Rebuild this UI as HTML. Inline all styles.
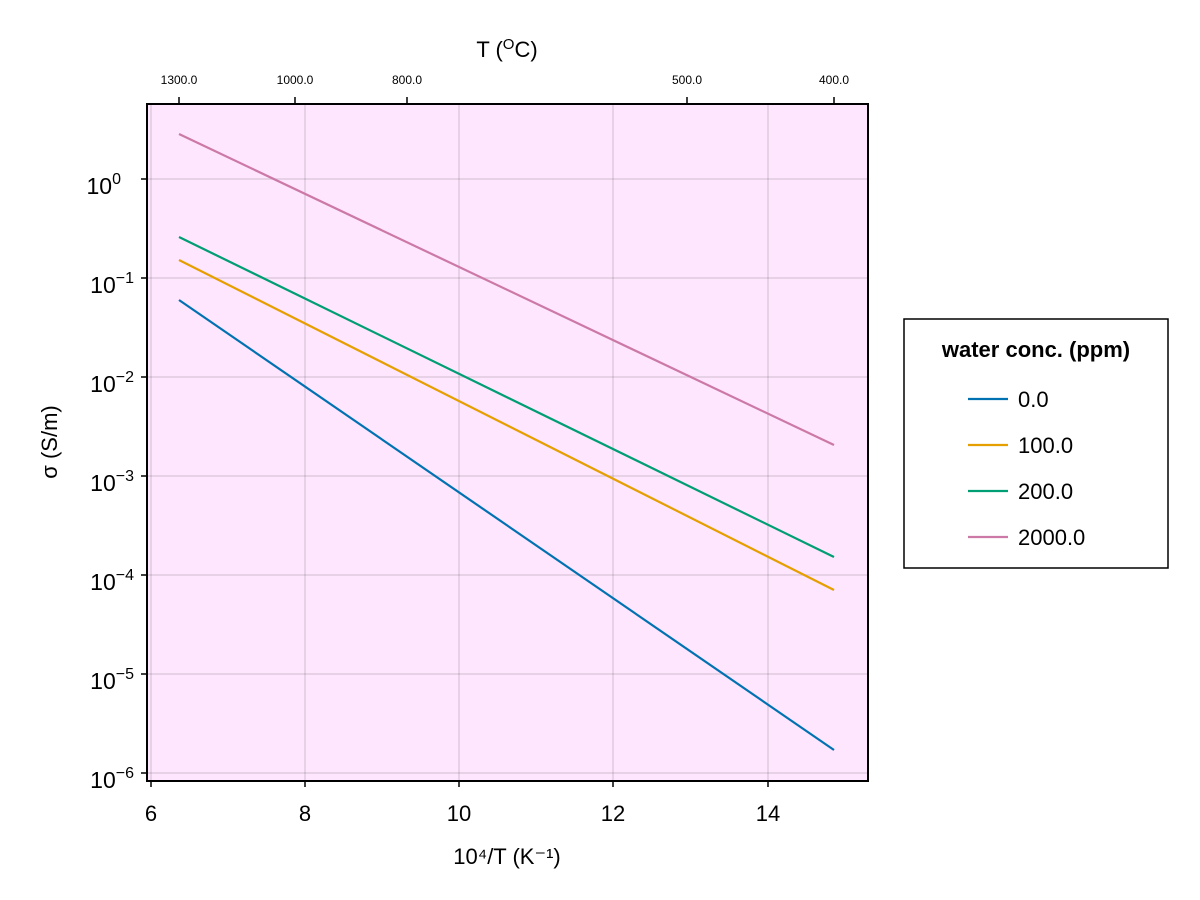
<!DOCTYPE html>
<html><head><meta charset="utf-8"><style>body{margin:0;background:#fff}svg{display:block}text{font-family:"Liberation Sans","DejaVu Sans",sans-serif;fill:#000}</style></head>
<body>
<svg width="1200" height="900" xmlns="http://www.w3.org/2000/svg">
<rect x="147" y="104" width="721" height="677" fill="#fee6fe"/>
<g stroke="#000" stroke-opacity="0.12" stroke-width="1.5">
<line x1="151" y1="104" x2="151" y2="781"/><line x1="305" y1="104" x2="305" y2="781"/><line x1="459" y1="104" x2="459" y2="781"/><line x1="613" y1="104" x2="613" y2="781"/><line x1="768" y1="104" x2="768" y2="781"/>
<line x1="147" y1="179" x2="868" y2="179"/><line x1="147" y1="278" x2="868" y2="278"/><line x1="147" y1="377" x2="868" y2="377"/><line x1="147" y1="476" x2="868" y2="476"/><line x1="147" y1="575" x2="868" y2="575"/><line x1="147" y1="674" x2="868" y2="674"/><line x1="147" y1="773" x2="868" y2="773"/>
</g>
<g stroke-width="2.2" fill="none">
<line x1="179" y1="300" x2="834" y2="750" stroke="#0072b2"/>
<line x1="179" y1="260" x2="834" y2="590" stroke="#e69f00"/>
<line x1="179" y1="237" x2="834" y2="557" stroke="#009e73"/>
<line x1="179" y1="134" x2="834" y2="445" stroke="#cc79a7"/>
</g>
<rect x="147" y="104" width="721" height="677" fill="none" stroke="#000" stroke-width="2"/>
<g stroke="#000" stroke-width="1.5">
<line x1="151" y1="781" x2="151" y2="787"/><line x1="305" y1="781" x2="305" y2="787"/><line x1="459" y1="781" x2="459" y2="787"/><line x1="613" y1="781" x2="613" y2="787"/><line x1="768" y1="781" x2="768" y2="787"/>
<line x1="141" y1="179" x2="147" y2="179"/><line x1="141" y1="278" x2="147" y2="278"/><line x1="141" y1="377" x2="147" y2="377"/><line x1="141" y1="476" x2="147" y2="476"/><line x1="141" y1="575" x2="147" y2="575"/><line x1="141" y1="674" x2="147" y2="674"/><line x1="141" y1="773" x2="147" y2="773"/>
<line x1="179" y1="97" x2="179" y2="104"/><line x1="295" y1="97" x2="295" y2="104"/><line x1="407" y1="97" x2="407" y2="104"/><line x1="687" y1="97" x2="687" y2="104"/><line x1="834" y1="97" x2="834" y2="104"/>
</g>
<g font-size="22" text-anchor="middle">
<text x="151" y="821">6</text><text x="305" y="821">8</text><text x="459" y="821">10</text><text x="613" y="821">12</text><text x="768" y="821">14</text>
<text x="507" y="864">10⁴/T (K⁻¹)</text>
<text x="507" y="57">T (<tspan font-size="15" dy="-8">O</tspan><tspan dy="8">C)</tspan></text>
</g>
<g font-size="12" text-anchor="middle">
<text x="179" y="84">1300.0</text><text x="295" y="84">1000.0</text><text x="407" y="84">800.0</text><text x="687" y="84">500.0</text><text x="834" y="84">400.0</text>
</g>
<g font-size="23" text-anchor="end">
<text x="121" y="194">10<tspan font-size="16" dy="-10">0</tspan></text>
<text x="134" y="293">10<tspan font-size="16" dy="-10">−1</tspan></text>
<text x="134" y="392">10<tspan font-size="16" dy="-10">−2</tspan></text>
<text x="134" y="491">10<tspan font-size="16" dy="-10">−3</tspan></text>
<text x="134" y="590">10<tspan font-size="16" dy="-10">−4</tspan></text>
<text x="134" y="689">10<tspan font-size="16" dy="-10">−5</tspan></text>
<text x="134" y="788">10<tspan font-size="16" dy="-10">−6</tspan></text>
</g>
<text x="57" y="442" font-size="22" text-anchor="middle" transform="rotate(-90 57 442)">σ (S/m)</text>
<rect x="904" y="319" width="264" height="249" fill="#fff" stroke="#000" stroke-width="1.5"/>
<text x="1036" y="357" font-size="22" font-weight="bold" text-anchor="middle">water conc. (ppm)</text>
<g stroke-width="2.2">
<line x1="968" y1="399" x2="1008" y2="399" stroke="#0072b2"/>
<line x1="968" y1="445" x2="1008" y2="445" stroke="#e69f00"/>
<line x1="968" y1="491" x2="1008" y2="491" stroke="#009e73"/>
<line x1="968" y1="537" x2="1008" y2="537" stroke="#cc79a7"/>
</g>
<g font-size="22">
<text x="1018" y="407">0.0</text><text x="1018" y="453">100.0</text><text x="1018" y="499">200.0</text><text x="1018" y="545">2000.0</text>
</g>
</svg>
</body></html>
